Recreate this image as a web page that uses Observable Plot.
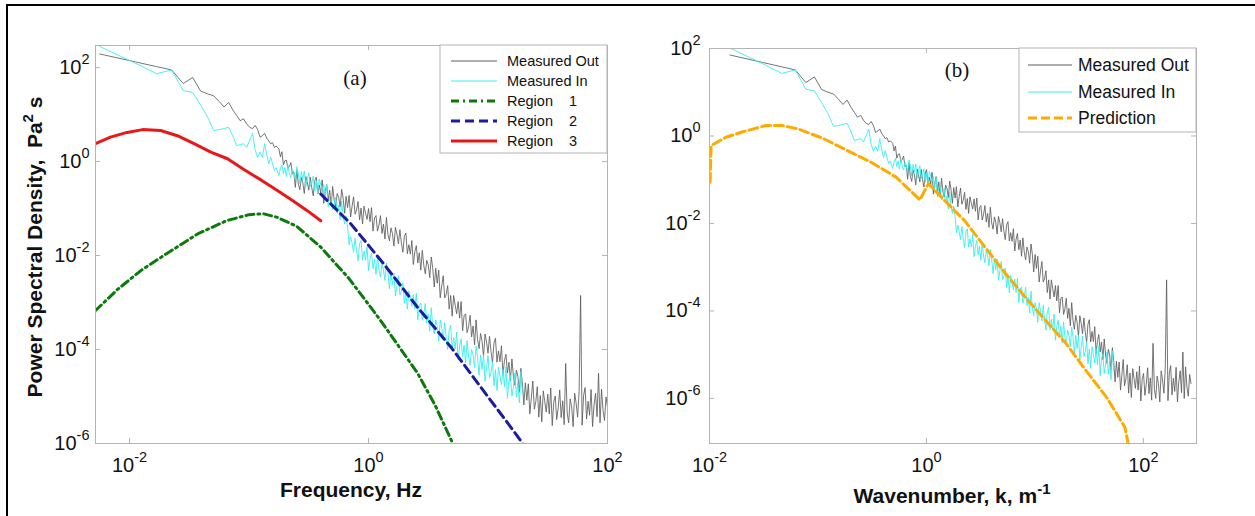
<!DOCTYPE html>
<html><head><meta charset="utf-8">
<script src="https://cdn.jsdelivr.net/npm/d3@7"></script>
<script src="https://cdn.jsdelivr.net/npm/@observablehq/plot@0.6"></script>
<style>
html,body{margin:0;padding:0;background:#fff;}
#fig{position:relative;width:1255px;height:516px;overflow:hidden;background:#fff;}
#pa{position:absolute;left:0;top:0;z-index:2;}
#pb{position:absolute;left:620px;top:0;z-index:1;}
#bt{position:absolute;left:6px;top:4px;width:1249px;height:2px;background:#000;z-index:3;}
#bl{position:absolute;left:6px;top:4px;width:2px;height:512px;background:#000;z-index:3;}
</style></head>
<body><div id="fig"><div id="pa"></div><div id="pb"></div><div id="bt"></div><div id="bl"></div></div>
<script>
// ---------------- DATA (log10 values) ----------------
// Measured spectra in panel (a): frequency (Hz) and PSD (Pa^2 s), as log10.
// Low-frequency estimates (spectral lines n*df)
const lowFreqLog = [-2.25,-1.949,-1.773,-1.648,-1.551,-1.472,-1.405,-1.347,-1.296,-1.25,-1.209,-1.171,-1.136,-1.104,-1.074,-1.046,-1.02,-0.995,-0.971,-0.949,-0.928,-0.908,-0.888,-0.87,-0.852,-0.835,-0.819,-0.803,-0.788,-0.773];
const outLowLog = [2.29,2.12,2.02,1.95,1.66,1.79,1.50,1.44,1.40,1.28,1.16,1.26,1.10,0.98,0.87,0.91,0.80,0.73,0.70,0.77,0.68,0.52,0.55,0.60,0.50,0.44,0.38,0.40,0.30,0.33];
const inLowLog = [2.45,2.09,1.87,1.95,1.51,1.47,1.20,0.95,0.66,0.68,0.70,0.73,0.55,0.34,0.36,0.38,0.30,0.45,0.60,0.25,0.09,0.20,0.09,0.38,0.15,-0.05,0.10,-0.05,-0.19,-0.13];
// Dense part of the spectra on a log-frequency grid
const denseFreqStartLog = -0.75, denseFreqStepLog = 0.0125;
const outDenseLog = [
0.27,0.10,0.21,-0.07,0.02,0.03,-0.14,-0.10,-0.02,-0.26,
-0.23,-0.55,-0.18,-0.48,-0.60,-0.34,-0.45,-0.68,-0.32,-0.44,
-0.61,-0.33,-0.56,-0.73,-0.41,-0.33,-0.69,-0.50,-0.67,-0.39,
-0.89,-0.63,-0.49,-0.82,-0.61,-0.93,-0.53,-0.82,-0.96,-0.68,
-0.76,-0.97,-0.59,-0.78,-1.10,-0.74,-0.98,-0.72,-1.18,-0.95,
-0.75,-1.12,-1.03,-0.85,-1.24,-0.99,-1.33,-0.95,-1.10,-1.23,
-1.00,-1.28,-0.98,-1.48,-1.20,-1.15,-1.48,-1.35,-1.15,-1.53,
-1.33,-1.65,-1.19,-1.55,-1.69,-1.41,-1.53,-1.80,-1.40,-1.54,
-1.75,-1.45,-1.73,-1.93,-1.59,-1.52,-1.96,-1.77,-1.97,-1.68,
-2.19,-1.92,-1.79,-2.16,-1.94,-2.31,-1.89,-2.21,-2.39,-2.10,
-2.20,-2.47,-2.03,-2.27,-2.67,-2.27,-2.59,-2.31,-2.90,-2.65,
-2.43,-2.90,-2.83,-2.64,-3.14,-2.85,-3.29,-2.85,-3.05,-3.24,
-2.98,-3.33,-2.98,-3.60,-3.28,-3.24,-3.64,-3.51,-3.27,-3.73,
-3.50,-3.90,-3.37,-3.79,-3.98,-3.66,-3.82,-4.15,-3.67,-3.84,
-4.08,-3.72,-4.04,-4.28,-3.86,-3.76,-4.27,-4.03,-4.26,-3.92,
-4.53,-4.24,-4.10,-4.50,-4.27,-4.67,-4.20,-4.57,-4.76,-4.44,
-4.57,-4.91,-4.40,-4.71,-5.18,-4.71,-5.08,-4.73,-5.37,-5.03,
-4.67,-5.27,-5.11,-4.79,-5.44,-4.98,-5.54,-4.88,-5.11,-5.33,
-4.95,-5.37,-4.82,-5.62,-5.12,-4.99,-5.49,-5.24,-4.86,-5.45,
-5.09,-5.60,-4.30,-5.35,-5.56,-5.05,-5.22,-5.64,-4.93,-5.14,
-5.44,-4.89,-2.85,-5.61,-4.98,-4.81,-5.48,-5.10,-5.40,-4.85,
-5.64,-5.18,-4.93,-5.43,-4.50,-5.56,-4.84,-5.30,-5.51,-5.01,-5.22];
const inDenseLog = [
-0.30,-0.14,-0.07,-0.26,-0.13,-0.32,-0.08,-0.25,-0.34,-0.17,
-0.23,-0.39,-0.11,-0.25,-0.47,-0.21,-0.38,-0.20,-0.53,-0.36,
-0.24,-0.53,-0.46,-0.31,-0.62,-0.41,-0.68,-0.37,-0.48,-0.60,
-0.49,-0.75,-0.50,-0.96,-0.74,-0.71,-1.02,-0.92,-0.76,-1.10,
-0.93,-1.23,-0.84,-1.17,-1.33,-1.16,-1.40,-1.77,-1.60,-1.74,
-1.93,-1.63,-1.90,-2.11,-1.75,-1.68,-2.10,-1.91,-2.10,-1.81,
-2.32,-2.08,-1.95,-2.28,-2.08,-2.40,-2.01,-2.31,-2.46,-2.19,
-2.30,-2.53,-2.16,-2.37,-2.71,-2.36,-2.62,-2.37,-2.86,-2.64,
-2.43,-2.84,-2.77,-2.58,-3.02,-2.76,-3.14,-2.75,-2.91,-3.08,
-2.83,-3.14,-2.81,-3.37,-3.06,-3.01,-3.38,-3.24,-3.02,-3.44,
-3.25,-3.61,-3.11,-3.50,-3.67,-3.37,-3.51,-3.82,-3.37,-3.55,
-3.79,-3.43,-3.76,-4.00,-3.58,-3.48,-3.99,-3.75,-3.99,-3.63,
-4.23,-3.92,-3.77,-4.15,-3.91,-4.29,-3.81,-4.16,-4.34,-4.00,
-4.12,-4.38,-3.93,-4.16,-4.55,-4.12,-4.42,-4.11,-4.68,-4.40,
-4.13,-4.60,-4.49,-4.26,-4.77,-4.43,-4.87,-4.38,-4.56,-4.75,
-4.42,-4.79,-4.36,-5.04,-4.64,-4.55,-4.99,-4.80,-4.50,-5.01,
-4.70,-5.13,-4.47,-4.94];
// Model curves, panel (a)
const region1FreqLog = [-2.285,-2.1,-1.9,-1.69,-1.43,-1.19,-1.0,-0.88,-0.76,-0.6,-0.40,-0.16,0.08,0.25,0.41,0.56,0.70,0.76];
const region1PsdLog  = [-3.17,-2.72,-2.31,-1.96,-1.54,-1.26,-1.13,-1.11,-1.19,-1.38,-1.82,-2.5,-3.31,-3.92,-4.5,-5.2,-5.97,-6.3];
const region2FreqLog = [-0.40,-0.15,0.125,0.41,0.69,0.96,1.19,1.29,1.35];
const region2PsdLog  = [-0.69,-1.32,-2.17,-3.10,-3.95,-4.87,-5.65,-6.0,-6.3];
const region3FreqLog = [-2.285,-2.16,-2.02,-1.89,-1.74,-1.60,-1.46,-1.32,-1.18,-1.05,-0.90,-0.76,-0.63,-0.51,-0.40];
const region3PsdLog  = [0.38,0.52,0.62,0.68,0.66,0.55,0.38,0.20,0.06,-0.16,-0.39,-0.62,-0.84,-1.05,-1.26];
// Panel (b): wavenumber k = 2*pi*f/U, S(k) = S(f)*U/(2*pi)
const kPerHz = 2.75;
const predWaveLog = [-1.995,-1.985,-1.85,-1.70,-1.48,-1.33,-1.18,-0.95,-0.73,-0.51,-0.28,-0.06,0.017,0.166,0.35,0.54,0.73,0.91,1.10,1.29,1.47,1.66,1.83,1.86,1.87];
const predPsdLog  = [-1.06,-0.22,-0.03,0.09,0.24,0.24,0.16,-0.06,-0.33,-0.60,-0.94,-1.46,-1.09,-1.47,-1.93,-2.54,-3.15,-3.68,-4.22,-4.75,-5.36,-5.97,-6.66,-7.04,-7.2];
// Axes
const xTicksA = [1e-2, 1, 1e2];
const yTicksA = [1e-6, 1e-4, 1e-2, 1, 1e2];
const xTicksB = [1e-2, 1, 1e2];
const yTicksB = [1e-6, 1e-4, 1e-2, 1, 1e2];
const xDomA = [10 ** -2.285, 100], yDomA = [1e-6, 10 ** 2.47];
const xDomB = [0.01, 10 ** 2.49], yDomB = [10 ** -7.03, 100];
const legendA = ["Measured Out", "Measured In", "Region    1", "Region    2", "Region    3"];
const legendB = ["Measured Out", "Measured In", "Prediction"];
const xLabelA = "Frequency, Hz";
const yLabelA = ["Power Spectral Density,  Pa", "2", " s"];
const xLabelB = ["Wavenumber, k, m", "-1"];

// ---------------- BUILD ----------------
const toPts = (lf, lp) => lf.map((f, i) => ({x: 10 ** f, y: 10 ** lp[i]}));
function measured(lowP, denseP) {
  const pts = toPts(lowFreqLog, lowP);
  denseP.forEach((p, i) => pts.push({x: 10 ** (denseFreqStartLog + i * denseFreqStepLog), y: 10 ** p}));
  return pts;
}
const outA = measured(outLowLog, outDenseLog);
const inA = measured(inLowLog, inDenseLog);
const region1 = toPts(region1FreqLog, region1PsdLog);
const region2 = toPts(region2FreqLog, region2PsdLog);
const region3 = toPts(region3FreqLog, region3PsdLog);
const outB = outA.map(d => ({x: d.x * kPerHz, y: d.y / kPerHz}));
const inB = inA.map(d => ({x: d.x * kPerHz, y: d.y / kPerHz}));
const pred = toPts(predWaveLog, predPsdLog);

const C = {out: "#5c5c5c", in: "#38eeee", r1: "#0b7a0b", r2: "#1c1c9e", r3: "#e81818", pred: "#ffaa00", frame: "#b4b4b4"};
const fmtExp = d => "10^" + Math.round(Math.log10(d));

function innerTicks(xT, yT, xD, yD, m, W, H) {
  const pw = W - m.l - m.r, ph = H - m.t - m.b;
  const kx = 10 ** (5 * Math.log10(xD[1] / xD[0]) / pw);
  const ky = 10 ** (5 * Math.log10(yD[1] / yD[0]) / ph);
  const st = {stroke: C.frame, strokeWidth: 1};
  return [
    Plot.ruleX(xT, {x: d => d, y1: yD[0], y2: yD[0] * ky, ...st}),
    Plot.ruleX(xT, {x: d => d, y1: yD[1] / ky, y2: yD[1], ...st}),
    Plot.ruleY(yT, {y: d => d, x1: xD[0], x2: xD[0] * kx, ...st}),
    Plot.ruleY(yT, {y: d => d, x1: xD[1] / kx, x2: xD[1], ...st})
  ];
}

function superscripts(svg) {
  svg.querySelectorAll("text").forEach(t => {
    const m = /^10\^(-?\d+)$/.exec(t.textContent);
    if (!m) return;
    t.textContent = "10";
    const ts = document.createElementNS("http://www.w3.org/2000/svg", "tspan");
    ts.setAttribute("dy", "-10");
    ts.setAttribute("font-size", "14.5px");
    ts.textContent = m[1];
    t.appendChild(ts);
  });
}

function legend(svg, box, rows, fs) {
  const g = d3.select(svg).append("g");
  g.append("rect").attr("x", box.x).attr("y", box.y).attr("width", box.w).attr("height", box.h)
    .attr("fill", "white").attr("stroke", C.frame).attr("stroke-width", 1);
  rows.forEach(r => {
    g.append("line").attr("x1", box.lx1).attr("x2", box.lx2).attr("y1", r.y).attr("y2", r.y)
      .attr("stroke", r.color).attr("stroke-width", r.w).attr("stroke-dasharray", r.dash || null);
    g.append("text").attr("x", box.tx).attr("y", r.y).attr("dy", "0.35em").attr("text-anchor", "start")
      .attr("font-size", fs).style("white-space", "pre").attr("fill", "#111").text(r.label);
  });
}

const baseStyle = {fontFamily: "'Liberation Sans', Arial, sans-serif", fontSize: "20px", background: "transparent", color: "#111", overflow: "visible"};

// Panel (a)
const mA = {l: 95, r: 13, t: 45, b: 73}, WA = 620, H = 516;
const plotA = Plot.plot({
  width: WA, height: H,
  marginLeft: mA.l, marginRight: mA.r, marginTop: mA.t, marginBottom: mA.b,
  style: baseStyle,
  x: {type: "log", domain: xDomA, ticks: xTicksA, tickFormat: fmtExp, tickSize: 0, tickPadding: 14, label: null},
  y: {type: "log", domain: yDomA, ticks: yTicksA, tickFormat: fmtExp, tickSize: 0, tickPadding: 6, label: null},
  marks: [
    Plot.line(outA, {x: "x", y: "y", stroke: C.out, strokeWidth: 0.85, clip: true}),
    Plot.line(inA, {x: "x", y: "y", stroke: C.in, strokeWidth: 0.9, clip: true}),
    Plot.line(region1, {x: "x", y: "y", stroke: C.r1, strokeWidth: 3, strokeDasharray: "8,4,2,4", clip: true}),
    Plot.line(region2, {x: "x", y: "y", stroke: C.r2, strokeWidth: 3, strokeDasharray: "9,5", clip: true}),
    Plot.line(region3, {x: "x", y: "y", stroke: C.r3, strokeWidth: 3, clip: true}),
    ...innerTicks(xTicksA, yTicksA, xDomA, yDomA, mA, WA, H),
    Plot.frame({stroke: C.frame})
  ]
});
document.getElementById("pa").appendChild(plotA);
superscripts(plotA);
{
  const s = d3.select(plotA);
  s.append("text").attr("x", 351).attr("y", 497).attr("text-anchor", "middle")
    .attr("font-weight", "bold").attr("font-size", "21px").attr("fill", "#111").text(xLabelA);
  const yl = s.append("text").attr("transform", "translate(42,247) rotate(-90)").attr("text-anchor", "middle")
    .attr("font-weight", "bold").attr("font-size", "21px").attr("fill", "#111").style("white-space", "pre");
  yl.append("tspan").text(yLabelA[0]);
  yl.append("tspan").attr("dy", -9).attr("font-size", "15px").text(yLabelA[1]);
  yl.append("tspan").attr("dy", 9).text(yLabelA[2]);
  s.append("text").attr("x", 355).attr("y", 85).attr("text-anchor", "middle")
    .attr("font-family", "'Liberation Serif', 'Times New Roman', serif").attr("font-size", "21px").attr("fill", "#111").text("(a)");
  legend(plotA, {x: 440, y: 45, w: 167, h: 108, lx1: 451, lx2: 497, tx: 507}, [
    {y: 61, color: C.out, w: 1, label: legendA[0]},
    {y: 81, color: C.in, w: 1, label: legendA[1]},
    {y: 101, color: C.r1, w: 3, dash: "8,4,2,4", label: legendA[2]},
    {y: 121, color: C.r2, w: 3, dash: "9,5", label: legendA[3]},
    {y: 141, color: C.r3, w: 3, label: legendA[4]}
  ], "14.5px");
}

// Panel (b)
const mB = {l: 89, r: 59, t: 48, b: 73}, WB = 635;
const plotB = Plot.plot({
  width: WB, height: H,
  marginLeft: mB.l, marginRight: mB.r, marginTop: mB.t, marginBottom: mB.b,
  style: baseStyle,
  x: {type: "log", domain: xDomB, ticks: xTicksB, tickFormat: fmtExp, tickSize: 0, tickPadding: 14, label: null},
  y: {type: "log", domain: yDomB, ticks: yTicksB, tickFormat: fmtExp, tickSize: 0, tickPadding: 9, label: null},
  marks: [
    Plot.line(outB, {x: "x", y: "y", stroke: C.out, strokeWidth: 0.85, clip: true}),
    Plot.line(inB, {x: "x", y: "y", stroke: C.in, strokeWidth: 0.9, clip: true}),
    Plot.line(pred, {x: "x", y: "y", stroke: C.pred, strokeWidth: 3, strokeDasharray: "9,4", clip: true}),
    ...innerTicks(xTicksB, yTicksB, xDomB, yDomB, mB, WB, H),
    Plot.frame({stroke: C.frame})
  ]
});
document.getElementById("pb").appendChild(plotB);
superscripts(plotB);
{
  const s = d3.select(plotB);
  const xl = s.append("text").attr("x", 332).attr("y", 503).attr("text-anchor", "middle")
    .attr("font-weight", "bold").attr("font-size", "21px").attr("fill", "#111");
  xl.append("tspan").text(xLabelB[0]);
  xl.append("tspan").attr("dy", -9).attr("font-size", "15px").text(xLabelB[1]);
  s.append("text").attr("x", 337).attr("y", 77).attr("text-anchor", "middle")
    .attr("font-family", "'Liberation Serif', 'Times New Roman', serif").attr("font-size", "21px").attr("fill", "#111").text("(b)");
  legend(plotB, {x: 399, y: 48, w: 177, h: 84, lx1: 408, lx2: 452, tx: 458}, [
    {y: 65, color: C.out, w: 1, label: legendB[0]},
    {y: 92, color: C.in, w: 1, label: legendB[1]},
    {y: 118, color: C.pred, w: 3, dash: "9,4", label: legendB[2]}
  ], "17.5px");
}
</script></body></html>
